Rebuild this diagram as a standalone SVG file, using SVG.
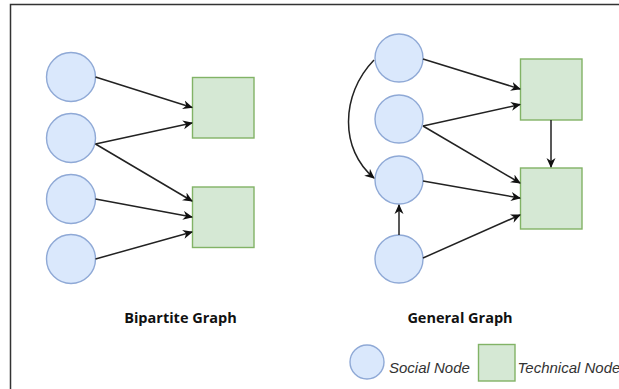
<svg xmlns="http://www.w3.org/2000/svg" width="619" height="389" viewBox="0 0 619 389">
  <style>
    .social { fill: #dae8fc; stroke: #8fa9d6; stroke-width: 1.4; }
    .tech { fill: #d5e8d4; stroke: #82b366; stroke-width: 1.4; }
    .edge { fill: none; stroke: #222; stroke-width: 1.5; marker-end: url(#arrow); }
    .title { font-family: "Open Sans", "Liberation Sans", sans-serif; font-weight: bold; font-size: 14.5px; fill: #111; text-anchor: middle; }
    .legend { font-family: "Liberation Sans", Arial, sans-serif; font-style: italic; font-size: 15px; fill: #333; }
  </style>
  <defs>
    <marker id="arrow" viewBox="0 0 10 10" refX="9" refY="5" markerWidth="10" markerHeight="10" markerUnits="userSpaceOnUse" orient="auto">
      <path d="M0,0.5 L10,5 L0,9.5 L3,5 Z" fill="#111"/>
    </marker>
  </defs>
  <rect width="619" height="389" fill="#fff"/>
  <!-- frame -->
  <path d="M10.5,389 V4.5 H619" fill="none" stroke="#333" stroke-width="1.5"/>

  <!-- Bipartite graph -->
  <g id="b-s1"><circle class="social" cx="71" cy="77" r="24.5"/></g>
  <g id="b-s2"><circle class="social" cx="71" cy="138" r="24.5"/></g>
  <g id="b-s3"><circle class="social" cx="71" cy="199" r="24.5"/></g>
  <g id="b-s4"><circle class="social" cx="71" cy="259" r="24.5"/></g>
  <g id="b-t1"><rect class="tech" x="192.5" y="77.5" width="61.5" height="60.5"/></g>
  <g id="b-t2"><rect class="tech" x="192.5" y="187" width="61.5" height="60.5"/></g>

  <!-- General graph -->
  <g id="g-s1"><circle class="social" cx="399" cy="58" r="24"/></g>
  <g id="g-s2"><circle class="social" cx="399" cy="119" r="24"/></g>
  <g id="g-s3"><circle class="social" cx="399" cy="180" r="24"/></g>
  <g id="g-s4"><circle class="social" cx="399" cy="259" r="24"/></g>
  <g id="g-t1"><rect class="tech" x="520.5" y="59" width="61.5" height="61"/></g>
  <g id="g-t2"><rect class="tech" x="520.5" y="168" width="61.5" height="61"/></g>

  <!-- connectors -->
  <g id="connectors">
    <path class="edge" d="M95.5,77 L192,107.5"/>
    <path class="edge" d="M95.5,144 L192,123"/>
    <path class="edge" d="M95.5,144 L192,201"/>
    <path class="edge" d="M95.5,199 L192,217"/>
    <path class="edge" d="M95.5,259 L192,232"/>

    <path class="edge" d="M423,59 L520,89"/>
    <path class="edge" d="M423,126 L520,104.5"/>
    <path class="edge" d="M423,126 L520,183"/>
    <path class="edge" d="M423,181 L520,198"/>
    <path class="edge" d="M423,258 L520,215"/>
    <path class="edge" d="M551,120 L551,167"/>
    <path class="edge" d="M399,235 L399,205"/>
    <path class="edge" d="M374,60 C340,95 340,150 374,178"/>
  </g>

  <!-- titles -->
  <text class="title" x="180.5" y="323">Bipartite Graph</text>
  <text class="title" x="460" y="323">General Graph</text>

  <!-- legend -->
  <g id="legend-social">
    <circle class="social" cx="367" cy="362" r="17"/>
    <text class="legend" x="389" y="373">Social Node</text>
  </g>
  <g id="legend-tech">
    <rect class="tech" x="478.5" y="344.5" width="36.5" height="36.5"/>
    <text class="legend" x="517.5" y="373" font-size="13.5">Technical Node</text>
  </g>
</svg>
